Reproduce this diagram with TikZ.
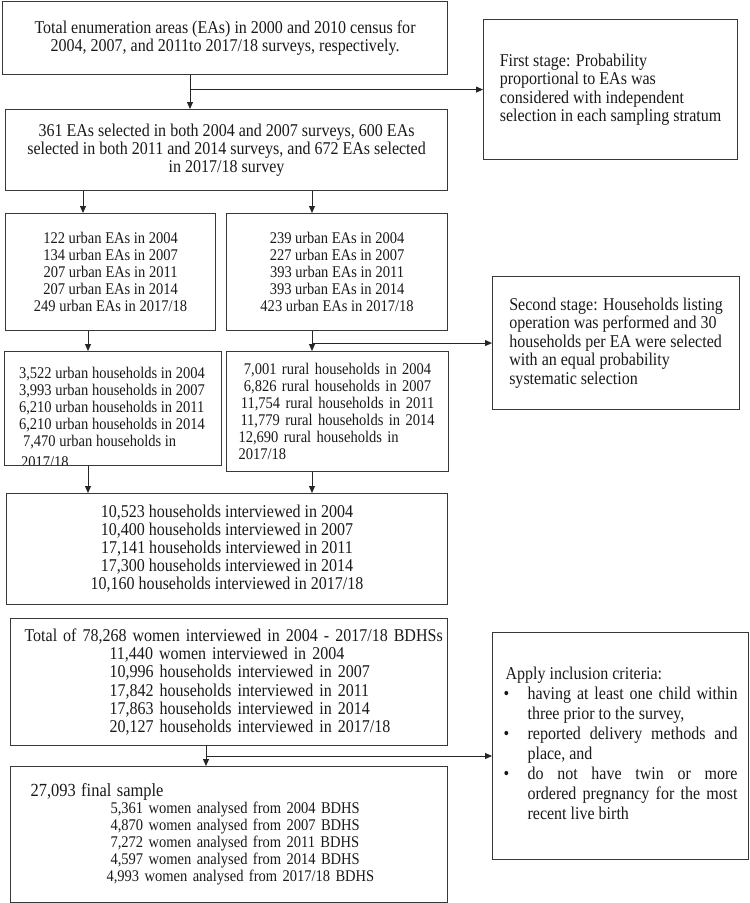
\documentclass[tikz,border=0pt]{standalone}
\usepackage{fontspec}
\setmainfont{Liberation Serif}[FakeStretch=0.89]
\usetikzlibrary{arrows.meta}
\begin{document}
\begin{tikzpicture}[x=1pt,y=-1pt]
    \tikzset{
        box/.style={draw=black!78, line width=1.1pt, anchor=north west, inner sep=0pt, text=black!90},
        arr/.style={draw=black!85, line width=0.9pt, -{Triangle[length=7pt,width=6pt]}},}
    \def\bigfont{\fontsize{18}{18}\selectfont}
    \def\smallfont{\fontsize{16.3}{17}\selectfont}
    \useasboundingbox (0,0) rectangle (750,903);
    % sampling stages
    \node[box, minimum width=445pt, minimum height=73pt, align=center, font=\bigfont] (census) at (2,1)
        {Total enumeration areas (EAs) in 2000 and 2010 census for\\2004, 2007, and 2011to 2017/18 surveys, respectively.};
    \node[box, minimum width=254pt, minimum height=140pt, align=left, font=\fontsize{18}{18.3}\selectfont] (first) at (483,19)
        {First stage: Probability\\proportional to EAs was\\considered with independent\\selection in each sampling stratum};
    \node[box, minimum width=442pt, minimum height=81pt, align=center, font=\bigfont] (selected) at (5,109)
        {361 EAs selected in both 2004 and 2007 surveys, 600 EAs\\selected in both 2011 and 2014 surveys, and 672 EAs selected\\in 2017/18 survey};
    \node[box, minimum width=210pt, minimum height=117pt, align=center, font=\smallfont] (urbanEA) at (5,213)
        {122 urban EAs in 2004\\134 urban EAs in 2007\\207 urban EAs in 2011\\207 urban EAs in 2014\\249 urban EAs in 2017/18};
    \node[box, minimum width=221pt, minimum height=117pt, align=center, font=\smallfont] (ruralEA) at (226,213)
        {\\[-6pt]239 urban EAs in 2004\\227 urban EAs in 2007\\393 urban EAs in 2011\\393 urban EAs in 2014\\423 urban EAs in 2017/18};
    \node[box, minimum width=247pt, minimum height=133pt, align=left, font=\fontsize{18}{18.5}\selectfont] (second) at (492,276)
        {Second stage: Households listing\\operation was performed and 30\\households per EA were selected\\with an equal probability\\systematic selection};
    % households
    \node[box, minimum width=217pt, minimum height=114pt, path picture={
            \node[draw=none, minimum width=0pt, minimum height=0pt, anchor=north west, inner sep=0pt, align=left, font=\smallfont, text=black!90]
                at ([xshift=14pt,yshift=-15pt]path picture bounding box.north west)
                {3,522 urban households in 2004\\3,993 urban households in 2007\\6,210 urban households in 2011\\6,210 urban households in 2014\\\hspace*{4pt}7,470 urban households in\\[4pt]\hspace*{2pt}2017/18};}] (urbanHH) at (4,351) {};
    \node[box, minimum width=222pt, minimum height=120pt, text width=198pt, inner xsep=12pt, align=left, font=\smallfont] (ruralHH) at (226,351)
        {{\centering 7,001 rural households in 2004\\6,826 rural households in 2007\\11,754 rural households in 2011\\11,779 rural households in 2014\par}12,690 rural households in\\2017/18};
    \node[box, minimum width=441pt, minimum height=111pt, align=center, font=\bigfont] (hhi) at (6,493)
        {10,523 households interviewed in 2004\\10,400 households interviewed in 2007\\17,141 households interviewed in 2011\\17,300 households interviewed in 2014\\10,160 households interviewed in 2017/18};
    % women
    \node[box, minimum width=437pt, minimum height=127pt, text width=409pt, inner xsep=14pt, align=left, font=\fontsize{18}{18.2}\selectfont] (women) at (10,618)
        {\mbox{Total of 78,268 women interviewed in 2004 - 2017/18 BDHSs}\\\hspace*{85pt}11,440 women interviewed in 2004\\\hspace*{85pt}10,996 households interviewed in 2007\\\hspace*{85pt}17,842 households interviewed in 2011\\\hspace*{85pt}17,863 households interviewed in 2014\\\hspace*{85pt}20,127 households interviewed in 2017/18};
    \node[box, minimum width=256pt, minimum height=227pt, text width=234pt, inner xsep=11pt, align=justify, font=\fontsize{18}{20}\selectfont] (incl) at (492,632)
        {\noindent\hspace*{2pt}Apply inclusion criteria:\par
         \noindent\hangindent=24pt\makebox[24pt][l]{\textbullet}having at least one child within\linebreak three prior to the survey,\par
         \noindent\hangindent=24pt\makebox[24pt][l]{\textbullet}reported delivery methods and\linebreak place, and\par
         \noindent\hangindent=24pt\makebox[24pt][l]{\textbullet}do not have twin or more\linebreak ordered pregnancy for the most\linebreak recent live birth\par\vspace*{6pt}};
    \node[box, minimum width=437pt, minimum height=136pt, text width=397pt, inner xsep=20pt, align=left, font=\fontsize{16.3}{17}\selectfont] (final) at (10,766)
        {{\fontsize{18.5}{17}\selectfont 27,093 final sample}\\\hspace*{80pt}5,361 women analysed from 2004 BDHS\\\hspace*{80pt}4,870 women analysed from 2007 BDHS\\\hspace*{80pt}7,272 women analysed from 2011 BDHS\\\hspace*{80pt}4,597 women analysed from 2014 BDHS\\\hspace*{76pt}4,993 women analysed from 2017/18 BDHS};
    % connectors
    \coordinate (xa) at (190,0);
    \coordinate (xb) at (83,0);
    \coordinate (xc) at (312,0);
    \coordinate (xd) at (88,0);
    \coordinate (xe) at (206,756);
    \draw[arr] (census.south -| xa) -- (selected.north -| xa);
    \draw[arr] (first.west -| xa) -- (first.west);
    \draw[arr] (selected.south -| xb) -- (urbanEA.north -| xb);
    \draw[arr] (selected.south -| xc) -- (ruralEA.north -| xc);
    \draw[arr] (urbanEA.south -| xd) -- (urbanHH.north -| xd);
    \draw[arr] (ruralEA.south -| xc) -- (ruralHH.north -| xc);
    \draw[arr] (second.west -| xc) -- (second.west);
    \draw[arr] (urbanHH.south -| xd) -- (hhi.north -| xd);
    \draw[arr] (ruralHH.south -| xc) -- (hhi.north -| xc);
    \draw[arr] (women.south -| xe) -- (final.north -| xe);
    \draw[arr] (xe) -- (incl.west |- xe);
\end{tikzpicture}
\end{document}
